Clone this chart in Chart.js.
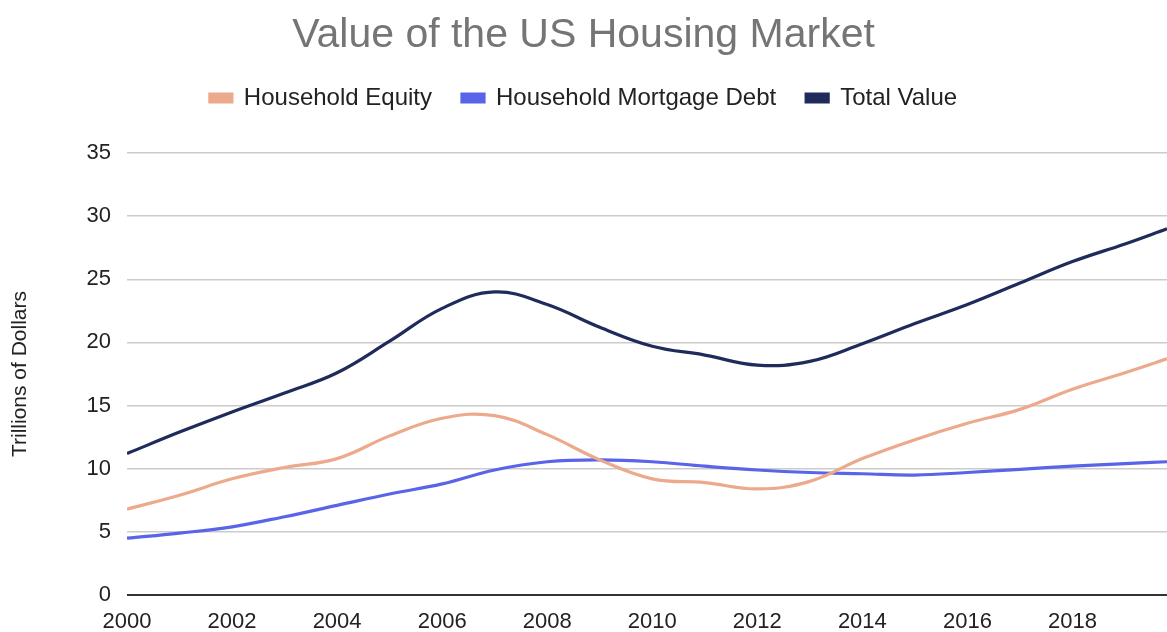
<!DOCTYPE html>
<html>
<head>
<meta charset="utf-8">
<script src="https://cdn.jsdelivr.net/npm/chart.js@4/dist/chart.umd.min.js"></script>
<style>
  body { margin: 0; background: #fff; }
  #wrap { width: 1167px; height: 632px; }
</style>
</head>
<body>
<div id="wrap"><canvas id="housingChart"></canvas></div>
<script>
// years (last point is the right edge, ~Q3 2019)
const years = [2000, 2001, 2002, 2003, 2004, 2005, 2006, 2007, 2008, 2009,
  2010, 2011, 2012, 2013, 2014, 2015, 2016, 2017, 2018, 2019, 2019.8];

// trillions of dollars
const equity = [6.8, 7.9, 9.2, 10.1, 10.8, 12.6, 14.0, 14.2, 12.7, 10.7,
  9.2, 8.9, 8.4, 9.0, 10.8, 12.3, 13.6, 14.7, 16.3, 17.6, 18.7];
const debt = [4.5, 4.9, 5.4, 6.2, 7.1, 8.0, 8.8, 9.9, 10.55, 10.7,
  10.55, 10.2, 9.9, 9.7, 9.6, 9.5, 9.7, 9.95, 10.2, 10.4, 10.55];
const total = [11.2, 12.9, 14.5, 16.0, 17.6, 20.1, 22.7, 24.0, 23.0, 21.2,
  19.7, 19.0, 18.2, 18.5, 19.9, 21.5, 23.0, 24.7, 26.4, 27.8, 29.0];

const yTicks = [0, 5, 10, 15, 20, 25, 30, 35];

const toPoints = (vals) => vals.map((v, i) => ({ x: years[i], y: v }));
const FONT = "Arial, 'Liberation Sans', sans-serif";

// push the plot area down a bit below the legend
const legendGap = {
  id: "legendGap",
  beforeInit(chart) {
    const fit = chart.legend.fit;
    chart.legend.fit = function () {
      fit.call(this);
      this.height += 33;
    };
  },
};

const ctx = document.getElementById("housingChart").getContext("2d");
new Chart(ctx, {
  type: "line",
  data: {
    datasets: [
      {
        label: "Household Equity",
        data: toPoints(equity),
        borderColor: "#eca98c",
        backgroundColor: "#eca98c",
      },
      {
        label: "Household Mortgage Debt",
        data: toPoints(debt),
        borderColor: "#5a64e8",
        backgroundColor: "#5a64e8",
      },
      {
        label: "Total Value",
        data: toPoints(total),
        borderColor: "#1f2b5a",
        backgroundColor: "#1f2b5a",
      },
    ],
  },
  options: {
    responsive: true,
    maintainAspectRatio: false,
    animation: false,
    layout: { padding: 0 },
    elements: {
      line: { borderWidth: 3.2, tension: 0.4, fill: false },
      point: { radius: 0, hoverRadius: 0 },
    },
    plugins: {
      title: {
        display: true,
        text: "Value of the US Housing Market",
        color: "#757575",
        font: { family: FONT, size: 41, weight: "normal", lineHeight: 1 },
        padding: { top: 15, bottom: 0 },
      },
      legend: {
        labels: {
          color: "#222",
          font: { family: FONT, size: 24 },
          boxWidth: 22,
          boxHeight: 8,
          padding: 30,
        },
      },
      tooltip: { enabled: false },
    },
    scales: {
      x: {
        type: "linear",
        min: 2000,
        max: 2019.8,
        grid: { display: false },
        border: { display: false },
        ticks: {
          stepSize: 2,
          includeBounds: false,
          color: "#222",
          padding: 6,
          maxRotation: 0,
          font: { family: FONT, size: 22 },
          callback: (v) => String(v),
        },
        afterFit: (scale) => { scale.height = 37; },
      },
      y: {
        min: 0,
        max: 35,
        border: { display: false },
        grid: {
          color: (c) => (c.tick && c.tick.value === 0 ? "#333" : "#cccccc"),
          lineWidth: (c) => (c.tick && c.tick.value === 0 ? 2 : 1.5),
          drawTicks: false,
        },
        afterBuildTicks: (scale) => { scale.ticks = yTicks.map((v) => ({ value: v })); },
        ticks: {
          color: "#222",
          padding: 16,
          font: { family: FONT, size: 22 },
        },
        title: {
          display: true,
          text: "Trillions of Dollars",
          color: "#222",
          font: { family: FONT, size: 21 },
          padding: { top: 8, bottom: 0 },
        },
        afterFit: (scale) => { scale.width = 127; },
      },
    },
  },
  plugins: [legendGap],
});
</script>
</body>
</html>
